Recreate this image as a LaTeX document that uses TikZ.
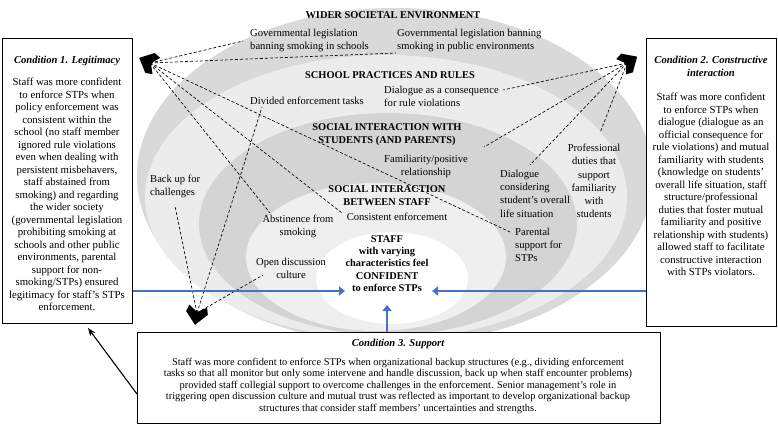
\documentclass[tikz,border=0pt]{standalone}
\usepackage{fontspec}
\setmainfont{Liberation Serif}
\usetikzlibrary{arrows.meta}
\definecolor{ringA}{HTML}{D9D9D9}
\definecolor{ringB}{HTML}{ECECEC}
\definecolor{ringC}{HTML}{D4D4D4}
\definecolor{ringD}{HTML}{EFEFEF}
\definecolor{bluearr}{HTML}{4472C4}
\begin{document}
\begin{tikzpicture}[x=1pt,y=-1pt,
  txt/.style={font=\fontsize{10.6}{13.2}\selectfont, inner sep=0pt, align=center},
  txl/.style={font=\fontsize{10.6}{13.2}\selectfont, inner sep=0pt, align=left},
  lbl/.style={font=\bfseries\fontsize{10.4}{13.5}\selectfont, inner sep=0pt, align=center},
  body/.style={font=\fontsize{10.8}{12.5}\selectfont, inner sep=0pt, align=center},
  ttl/.style={font=\bfseries\itshape\fontsize{10.6}{13}\selectfont, inner sep=0pt, align=center},
  frame/.style={draw=black, line width=0.8pt, fill=white, inner sep=0pt},
  dline/.style={dash pattern=on 3pt off 2pt, line width=0.65pt},
  bluearrow/.style={draw=bluearr, line width=2.8pt, -{Triangle[length=6pt,width=9pt]}},
  chevron/.style={fill=black}]
\useasboundingbox (0,0) rectangle (778,426);
\fill[white] (0,0) rectangle (778,426);

% rings
\fill[ringA] (395,176) ellipse [x radius=258pt, y radius=168pt];
\fill[ringB] (386,197) ellipse [x radius=241pt, y radius=142pt];
\fill[ringC] (388,224) ellipse [x radius=189pt, y radius=111pt];
\fill[ringD] (376,257) ellipse [x radius=130pt, y radius=74pt];
\fill[white] (392,278) ellipse [x radius=76pt, y radius=46pt];

% condition boxes
\node[frame, anchor=north west, minimum width=130pt, minimum height=285pt] (c1) at (2,38) {};
\node[frame, anchor=north west, minimum width=130pt, minimum height=288pt] (c2) at (646,38) {};
\node[frame, anchor=north west, minimum width=523pt, minimum height=91pt] (c3) at (137,332) {};

\node[ttl, anchor=north] (t1) at (67,56) {Condition 1. Legitimacy};
\node[body, anchor=north] (b1) at (67,78) {Staff was more confident\\to enforce STPs when\\policy enforcement was\\consistent within the\\school (no staff member\\ignored rule violations\\even when dealing with\\persistent misbehavers,\\staff abstained from\\smoking) and regarding\\the wider society\\(governmental legislation\\prohibiting smoking at\\schools and other public\\environments, parental\\support for non-\\smoking/STPs) ensured\\legitimacy for staff’s STPs\\enforcement.};

\node[ttl, anchor=north] (t2) at (711,56) {Condition 2. Constructive\\interaction};
\node[body, anchor=north] (b2) at (711,93) {Staff was more confident\\to enforce STPs when\\dialogue (dialogue as an\\official consequence for\\rule violations) and mutual\\familiarity with students\\(knowledge on students’\\overall life situation, staff\\structure/professional\\duties that foster mutual\\familiarity and positive\\relationship with students)\\allowed staff to facilitate\\constructive interaction\\with STPs violators.};

\node[ttl, anchor=north] (t3) at (398,339) {Condition 3. Support};
\node[font=\fontsize{10.4}{11.4}\selectfont, inner sep=0pt, align=center, anchor=north] (b3) at (398,358) {Staff was more confident to enforce STPs when organizational backup structures (e.g., dividing enforcement\\tasks so that all monitor but only some intervene and handle discussion, back up when staff encounter problems)\\provided staff collegial support to overcome challenges in the enforcement. Senior management’s role in\\triggering open discussion culture and mutual trust was reflected as important to develop organizational backup\\structures that consider staff members’ uncertainties and strengths.};

% ring texts
\node[lbl] (wse) at (393,15) {WIDER SOCIETAL ENVIRONMENT};
\node[txl, anchor=north west] (govA) at (250,29) {Governmental legislation\\banning smoking in schools};
\node[txl, anchor=north west] (govB) at (397,29) {Governmental legislation banning\\smoking in public environments};
\node[lbl] (spr) at (390,75) {SCHOOL PRACTICES AND RULES};
\node[txl, anchor=north west] (div) at (250,97) {Divided enforcement tasks};
\node[txl, anchor=north west] (dia) at (384,86) {Dialogue as a consequence\\for rule violations};
\node[lbl, anchor=north] (sis) at (387,123) {SOCIAL INTERACTION WITH\\STUDENTS (AND PARENTS)};
\node[txt, anchor=north] (fam) at (426,155) {Familiarity/positive\\relationship};
\node[txl, anchor=north west] (dcs) at (500,170) {Dialogue\\considering\\student’s overall\\life situation};
\node[txt, anchor=north] (prof) at (594,144) {Professional\\duties that\\support\\familiarity\\with\\students};
\node[lbl, anchor=north] (sib) at (387,185) {SOCIAL INTERACTION\\BETWEEN STAFF};
\node[txt, anchor=north] (cons) at (397,213) {Consistent enforcement};
\node[txt, anchor=north] (abst) at (298,215) {Abstinence from\\smoking};
\node[txt, anchor=north] (open) at (291,258) {Open discussion\\culture};
\node[txl, anchor=north west] (par) at (515,228) {Parental\\support for\\STPs};
\node[txl, anchor=north west] (back) at (150,175) {Back up for\\challenges};
\node[font=\bfseries\fontsize{10.4}{12.4}\selectfont, inner sep=0pt, align=center, anchor=north] (staff) at (387,235) {STAFF\\with varying\\characteristics feel\\CONFIDENT\\to enforce STPs};

% convergence points and ends
\coordinate (LA) at (150,63);
\coordinate (RA) at (627,63);
\coordinate (BA) at (197,313);
\coordinate (eGovA) at (243,41);
\coordinate (eGovB) at (396,53);
\coordinate (eParent) at (510,232);
\coordinate (eCons) at (342,213);
\coordinate (eAbst) at (270,213);
\coordinate (eDialA) at (503,90);
\coordinate (eFam) at (484,147);
\coordinate (eDialB) at (530,165);
\coordinate (eProf) at (600,133);
\coordinate (eBack) at (175,206);
\coordinate (eDiv) at (262,107);
\coordinate (eOpen) at (263,275);

\foreach \e in {eGovA,eGovB,eParent,eCons,eAbst} \draw[dline] (LA) -- (\e);
\foreach \e in {eDialA,eFam,eDialB,eProf} \draw[dline] (RA) -- (\e);
\foreach \e in {eBack,eDiv,eOpen} \draw[dline] (BA) -- (\e);

% chevrons
\begin{scope}[shift={(LA)}, rotate=155]
  \fill[chevron] (12,0) -- (0,11) -- (-7,9) -- (-1,0) -- (-7,-9) -- (0,-11) -- cycle;
\end{scope}
\begin{scope}[shift={(RA)}, rotate=32]
  \fill[chevron] (12,0) -- (0,11) -- (-7,9) -- (-1,0) -- (-7,-9) -- (0,-11) -- cycle;
\end{scope}
\begin{scope}[shift={(BA)}, rotate=-100]
  \fill[chevron] (12,0) -- (0,11) -- (-7,9) -- (-1,0) -- (-7,-9) -- (0,-11) -- cycle;
\end{scope}

% blue arrows
\coordinate (yb) at (0,291);
\coordinate (xu) at (387,0);
\coordinate (tipL) at (345,291);
\coordinate (tipR) at (432,291);
\coordinate (tipU) at (387,305);
\draw[bluearrow] (c1.east |- yb) -- (tipL);
\draw[bluearrow] (c2.west |- yb) -- (tipR);
\draw[bluearrow] (xu |- c3.north) -- (tipU);

% black diagonal arrow
\coordinate (yd) at (0,394);
\coordinate (headD) at (88,328);
\draw[line width=1.1pt, -{Stealth[length=8pt,width=6pt]}] (c3.west |- yd) -- (headD);
\end{tikzpicture}
\end{document}
